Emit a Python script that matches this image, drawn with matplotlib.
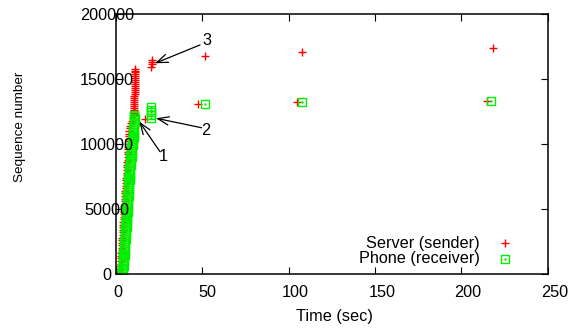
import matplotlib
matplotlib.use("Agg")
import matplotlib.pyplot as plt
from matplotlib import transforms
from matplotlib.lines import Line2D

plt.rcParams['font.family'] = ['Liberation Sans', 'DejaVu Sans']

# sender (server) packets: time (sec), sequence number
server_t = [0.4, 1.2, 1.8, 2.3, 2.5, 2.7, 2.8, 2.9, 3.0, 3.1, 3.2, 3.3, 3.4, 3.5,
            3.6, 3.7, 3.8, 3.9, 4.0, 4.1, 4.2, 4.3, 4.4, 4.5, 4.6, 4.7, 4.8, 4.9,
            5.0, 5.1, 5.2, 5.3, 5.4, 5.5, 5.6, 5.7, 5.8, 5.9, 6.0, 6.1, 6.2, 6.3,
            6.4, 6.5, 6.6, 6.7, 6.8, 6.9, 7.0, 7.1, 7.2, 7.3, 7.4, 7.5, 7.6, 7.7,
            7.8, 7.9, 8.0, 8.6, 9.3, 9.9, 10.4,
            10.5, 10.5, 10.5, 10.6, 10.6, 10.6, 10.7, 10.7, 10.7, 10.7, 10.8,
            10.8, 10.8, 10.8, 10.9, 10.9, 10.9, 10.9, 11.0, 11.0, 11.0, 11.1,
            11.1, 11.2,
            16.7, 20.4, 20.6, 20.8, 20.6,
            47.3, 51.8, 105.0, 108.0, 214.7, 218.2]
server_seq = [0, 1000, 2000, 4000, 6000, 8000, 10000, 12000, 14000, 16000, 18000,
              20000, 22000, 24000, 26000, 28000, 30000, 32000, 34000, 36000,
              38000, 40000, 42000, 44000, 46000, 48000, 50000, 52000, 54000,
              56000, 58000, 60000, 62000, 64000, 66000, 68000, 70000, 72000,
              74000, 76000, 78000, 80000, 82000, 84000, 86000, 88000, 90000,
              92000, 94000, 96000, 98000, 100000, 102000, 104000, 106000,
              108000, 110000, 112000, 114000, 116000, 118000, 120000, 122000,
              123500, 125000, 126500, 128000, 129500, 131000, 132500, 134000,
              135500, 137000, 138500, 140000, 141500, 143000, 144500, 146000,
              147500, 149000, 150500, 152000, 153500, 155000, 156500, 158000,
              119000, 159500, 161200, 163000, 164600,
              130500, 167900, 132000, 170800, 133300, 173600]

# receiver (phone) packets
phone_t = [0.7, 2.0, 3.3, 3.7, 4.2, 3.6, 4.4, 3.8, 4.6, 3.9, 4.8, 4.1, 5.0, 4.3,
           5.1, 4.5, 5.3, 4.7, 5.5, 4.8, 5.6, 5.0, 5.8, 5.1, 5.9, 5.3, 6.1, 5.4,
           6.2, 5.6, 6.4, 5.7, 6.5, 5.9, 6.7, 6.0, 6.8, 6.2, 7.0, 6.3, 7.1, 6.5,
           7.3, 6.6, 7.4, 6.8, 7.6, 6.9, 7.7, 7.1, 7.9, 7.2, 8.0, 7.4, 8.2, 7.6,
           8.4, 7.8, 8.6, 8.0, 8.8, 8.2, 9.0, 8.4, 9.2, 8.7, 9.5, 8.9, 9.8, 9.2,
           10.0, 9.5, 10.2, 9.7, 10.4, 9.9, 10.5, 10.1, 10.7, 10.3, 10.8, 10.4,
           10.9, 10.5, 10.7,
           20.5, 20.5, 20.5, 20.5, 20.5,
           51.6, 107.5, 217.5]
phone_seq = [0, 0, 0, 1500, 3000, 4500, 6000, 7500, 9000, 10500, 12000, 13500,
             15000, 16500, 18000, 19500, 21000, 22500, 24000, 25500, 27000,
             28500, 30000, 31500, 33000, 34500, 36000, 37500, 39000, 40500,
             42000, 43500, 45000, 46500, 48000, 49500, 51000, 52500, 54000,
             55500, 57000, 58500, 60000, 61500, 63000, 64500, 66000, 67500,
             69000, 70500, 72000, 73500, 75000, 76500, 78000, 79500, 81000,
             82500, 84000, 85500, 87000, 88500, 90000, 91500, 93000, 94500,
             96000, 97500, 99000, 100500, 102000, 103500, 105000, 106500,
             108000, 109500, 111000, 112500, 114000, 115500, 117000, 118500,
             120000, 121500, 122300,
             120200, 122300, 124400, 126500, 128700,
             130500, 132000, 133300]

x_ticks = [0, 50, 100, 150, 200, 250]
y_ticks = [0, 50000, 100000, 150000, 200000]

# arrow labels: text, label position, arrow tail, arrow head
notes = [("1", (27.4, 90600), (25.5, 94100), (13.5, 117200)),
         ("2", (52.1, 110000), (49.6, 112500), (23.2, 119800)),
         ("3", (52.5, 179800), (48.7, 176200), (22.6, 162100))]

red = "#ff0000"
green = "#00f000"
fs = 11.7

fig = plt.figure(figsize=(5.74, 3.30), dpi=100)
W, H = 574, 330
ax_l, ax_r, ax_t, ax_b = 116, 547.5, 14, 274
ax = fig.add_axes([ax_l / W, 1 - ax_b / H, (ax_r - ax_l) / W, (ax_b - ax_t) / H])

ax.plot(server_t, server_seq, linestyle="none", marker="+", color=red,
        markersize=5.2, markeredgewidth=1.0)
ax.plot(phone_t, phone_seq, linestyle="none", marker="s", markerfacecolor="none",
        markeredgecolor=green, markersize=5.6, markeredgewidth=1.0)
ax.plot(phone_t, phone_seq, linestyle="none", marker=".", color=green, markersize=1.5)

ax.set_xlim(0, 250)
ax.set_ylim(0, 200000)
ax.set_xticks(x_ticks)
ax.set_yticks(y_ticks)
ax.tick_params(direction="in", length=5, width=0.8, top=True, right=True,
               labelbottom=False, labelleft=False)
for sp in ax.spines.values():
    sp.set_linewidth(1.1)

# gnuplot-like tick labels (slightly offset, overlapping the axis)
for v in x_ticks:
    lab = str(v)
    tr = transforms.offset_copy(ax.get_xaxis_transform(), fig=fig,
                                x=-2.2 * len(lab), y=-23.3, units="dots")
    ax.text(v, 0, lab, transform=tr, ha="left", va="baseline", fontsize=fs)
for v in y_ticks:
    lab = str(v)
    tr = transforms.offset_copy(ax.get_yaxis_transform(), fig=fig,
                                x=(106.4 - 4.4 * len(lab)) - ax_l, y=-5.8, units="dots")
    ax.text(0, v, lab, transform=tr, ha="left", va="baseline", fontsize=fs)

fig.text(334.7 / W, 1 - 320.5 / H, "Time (sec)", ha="center", va="baseline", fontsize=fs)
fig.text(20 / W, 1 - 127 / H, "Sequence number", rotation=90, ha="center",
         va="center", fontsize=9.7)

for lab, pos, tail, head in notes:
    ax.annotate("", xy=head, xytext=tail,
                arrowprops=dict(arrowstyle="->,head_length=0.8,head_width=0.3",
                                color="black", lw=0.9, shrinkA=0, shrinkB=0))
    ax.text(pos[0], pos[1], lab, ha="center", va="center", fontsize=fs)

# legend (key drawn by hand, gnuplot style)
def ax_xy(px, py):
    return (px - ax_l) / (ax_r - ax_l), (ax_b - py) / (ax_b - ax_t)

x, y = ax_xy(480, 248.3)
ax.text(x, y, "Server (sender)", transform=ax.transAxes, ha="right", va="baseline", fontsize=fs)
x, y = ax_xy(480, 263.3)
ax.text(x, y, "Phone (receiver)", transform=ax.transAxes, ha="right", va="baseline", fontsize=fs)
x, y = ax_xy(505, 243.3)
ax.add_line(Line2D([x], [y], transform=ax.transAxes, linestyle="none", marker="+",
                   color=red, markersize=5.2, markeredgewidth=1.0))
x, y = ax_xy(505, 259.3)
ax.add_line(Line2D([x], [y], transform=ax.transAxes, linestyle="none", marker="s",
                   markerfacecolor="none", markeredgecolor=green, markersize=5.6,
                   markeredgewidth=1.0))
ax.add_line(Line2D([x], [y], transform=ax.transAxes, linestyle="none", marker=".",
                   color=green, markersize=1.5))

fig.savefig("out.png", dpi=100)
